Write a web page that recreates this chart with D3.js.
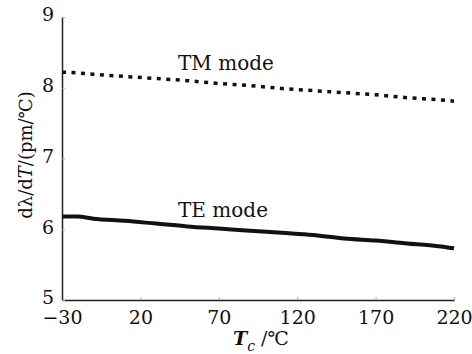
<!DOCTYPE html>
<html>
<head>
<meta charset="utf-8">
<script src="https://cdn.jsdelivr.net/npm/d3@7"></script>
<style>
  body { margin: 0; background: #fff; }
  svg { display: block; }
  svg text { font-family: "DejaVu Serif", "Liberation Serif", serif; }
  .axis path { stroke: #222; stroke-width: 1.5; }
  .axis line { stroke: #aaa; }
</style>
</head>
<body>
<div id="chart-area"></div>
<script>
// temperature (°C) and dλ/dT (pm/°C)
const temps = [-30, -20, -10, 10, 30, 50, 70, 90, 110, 130, 150, 170, 190, 210, 220];
const tmValues = [8.22, 8.21, 8.19, 8.16, 8.13, 8.10, 8.06, 8.03, 7.99, 7.96, 7.93, 7.90, 7.86, 7.83, 7.81];
const teValues = [6.18, 6.18, 6.15, 6.12, 6.08, 6.04, 6.01, 5.98, 5.95, 5.92, 5.87, 5.84, 5.80, 5.76, 5.73];
const xTicks = [-30, 20, 70, 120, 170, 220];
const yTicks = [5, 6, 7, 8, 9];
const modeLabels = [["TM mode", 44, 8.25], ["TE mode", 44, 6.17]];

const chartSize = { width: 472, height: 354 };
const margin = { left: 62, right: 18, top: 17, bottom: 54 };
const width = chartSize.width - margin.left - margin.right;
const height = chartSize.height - margin.top - margin.bottom;

const svg = d3.select("#chart-area")
  .append("svg")
  .attr("width", chartSize.width)
  .attr("height", chartSize.height)
  .attr("fill", "#111");

const g = svg.append("g")
  .attr("transform", `translate(${margin.left},${margin.top})`);

const x = d3.scaleLinear().domain([-30, 220]).range([0, width]);
const y = d3.scaleLinear().domain([5, 9]).range([height, 0]);

const xAxis = d3.axisBottom(x).tickValues(xTicks).tickFormat(d3.format("d"))
  .tickSizeInner(-3).tickSizeOuter(0).tickPadding(11);
const yAxis = d3.axisLeft(y).tickValues(yTicks).tickFormat(d3.format("d"))
  .tickSizeInner(-3).tickSizeOuter(0).tickPadding(8);

const styleAxis = a => {
  a.attr("font-family", null).attr("font-size", 19);
  a.selectAll("text").attr("fill", "#111");
};

g.append("g")
  .attr("class", "x axis")
  .attr("transform", `translate(0,${height})`)
  .call(xAxis)
  .call(styleAxis);

g.append("g")
  .attr("class", "y axis")
  .call(yAxis)
  .call(styleAxis)
  .call(a => a.selectAll("text").attr("dy", "0.2em"));

const line = d3.line()
  .x((d, i) => x(temps[i]))
  .y(d => y(d))
  .curve(d3.curveMonotoneX);

g.append("path")
  .datum(tmValues)
  .attr("d", line)
  .attr("fill", "none")
  .attr("stroke", "#111")
  .attr("stroke-width", 3.5)
  .attr("stroke-dasharray", "4,5.5");

g.append("path")
  .datum(teValues)
  .attr("d", line)
  .attr("fill", "none")
  .attr("stroke", "#111")
  .attr("stroke-width", 4);

g.selectAll(".mode")
  .data(modeLabels)
  .enter().append("text")
  .attr("class", "mode")
  .attr("x", d => x(d[1]))
  .attr("y", d => y(d[2]))
  .attr("font-size", 20)
  .text(d => d[0]);

// axis titles
svg.append("text")
  .attr("transform", "translate(32,155) rotate(-90)")
  .attr("text-anchor", "middle")
  .attr("font-size", 18)
  .html('dλ/d<tspan font-style="italic">T</tspan>/(pm/℃)');

const xt = svg.append("text")
  .attr("x", 233)
  .attr("y", 345)
  .attr("font-size", 19);
xt.append("tspan").attr("font-style", "italic").attr("font-weight", "bold").text("T");
xt.append("tspan").attr("font-style", "italic").attr("font-size", 14).attr("dy", 6).text("c");
xt.append("tspan").attr("dy", -6).text(" /℃");
</script>
</body>
</html>
